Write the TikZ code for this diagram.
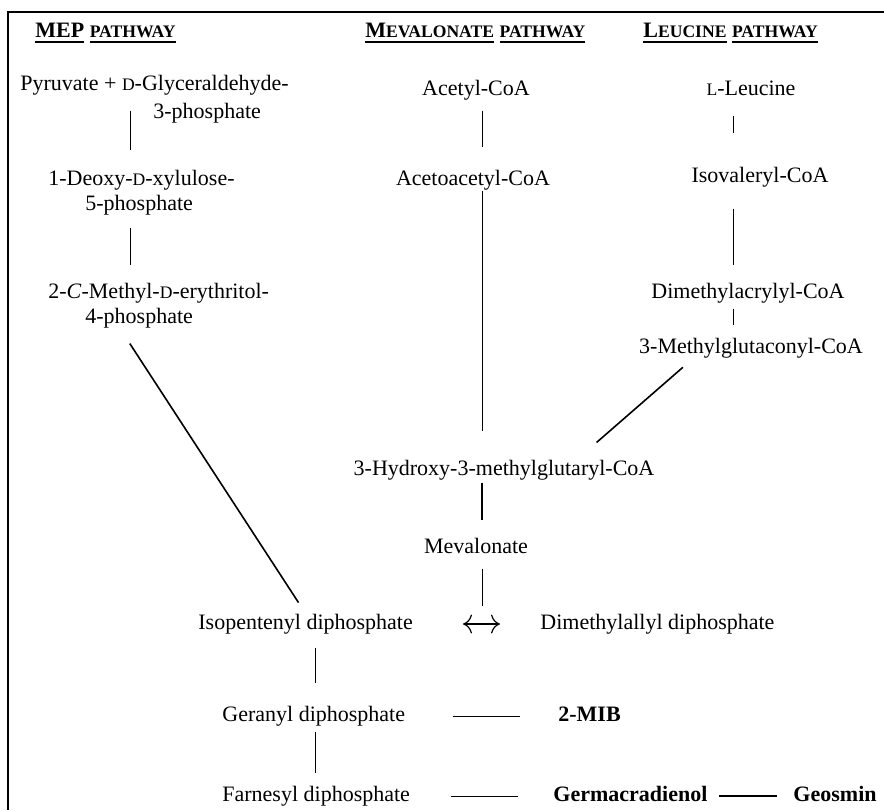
\documentclass[tikz,border=0pt]{standalone}
\usepackage{fontspec}
\setmainfont{Liberation Serif}
\usetikzlibrary{arrows.meta, calc}

% fake small capitals and the heading underline
\newcommand{\smc}[1]{{\fontsize{8.8}{10}\selectfont #1}}
\newcommand{\hdline}[1]{\setbox0=\hbox{#1}\rlap{\rule[-2.6pt]{\wd0}{0.9pt}}\box0\relax}

\begin{document}
\begin{tikzpicture}[x=0.5pt, y=-0.5pt,
    compound/.style={inner sep=0pt, anchor=west, text height=7.7pt, text depth=2.4pt, font=\fontsize{11}{13}\selectfont},
    product/.style={compound, font=\fontsize{11}{13}\selectfont\bfseries},
    header/.style={inner sep=0pt, anchor=west, font=\fontsize{11}{13}\selectfont\bfseries},
    bond/.style={line width=0.5pt},
    strongbond/.style={line width=0.8pt},
    equil/.style={line width=0.6pt, {To[length=4.5pt,width=9.5pt]}-{To[length=4.5pt,width=9.5pt]}}
]
    \useasboundingbox (0,0) rectangle (884,810);

    % frame (left and top edges only)
    \draw[line width=1.2pt] (8,810) -- (8,12) -- (884,12);

    % column positions of the bonds
    \coordinate (mepcol) at (130,0);
    \coordinate (mevcol) at (482,0);
    \coordinate (leucol) at (733,0);
    \coordinate (ippcol) at (315,0);

    % Headings
    \node[header] (hmep) at (35,33) {\hdline{MEP} \hdline{\smc{PATHWAY}}};
    \node[header] (hmev) at (365,33) {\hdline{M\smc{EVALONATE}} \hdline{\smc{PATHWAY}}};
    \node[header] (hleu) at (643,33) {\hdline{L\smc{EUCINE}} \hdline{\smc{PATHWAY}}};

    % MEP pathway
    \node[compound] (pyr1) at (20,85) {Pyruvate + \smc{D}-Glyceraldehyde-};
    \node[compound] (pyr2) at (153,113) {3-phosphate};
    \node[compound] (dxp1) at (48,180) {1-Deoxy-\smc{D}-xylulose-};
    \node[compound] (dxp2) at (85,205) {5-phosphate};
    \node[compound] (mep1) at (48,293) {2-\textit{C}-Methyl-\smc{D}-erythritol-};
    \node[compound] (mep2) at (85,318) {4-phosphate};

    % Mevalonate pathway
    \node[compound, anchor=center] (acetyl) at (476,90) {Acetyl-CoA};
    \node[compound, anchor=center] (acac) at (473,180) {Acetoacetyl-CoA};
    \node[compound, anchor=center] (hmg) at (504,470) {3-Hydroxy-3-methylglutaryl-CoA};
    \node[compound, anchor=center] (meva) at (476,548) {Mevalonate};

    % Leucine pathway
    \node[compound, anchor=center] (leu) at (751,90) {\smc{L}-Leucine};
    \node[compound, anchor=center] (ival) at (760,177) {Isovaleryl-CoA};
    \node[compound, anchor=center] (dmacryl) at (748,293) {Dimethylacrylyl-CoA};
    \node[compound, anchor=center] (mglut) at (751,348) {3-Methylglutaconyl-CoA};

    % isoprenoid units and products
    \node[compound] (ipp) at (198,624) {Isopentenyl diphosphate};
    \node[compound] (dmapp) at (540,624) {Dimethylallyl diphosphate};
    \node[compound] (ger) at (222,716) {Geranyl diphosphate};
    \node[compound] (far) at (222,796) {Farnesyl diphosphate};
    \node[product] (mib) at (558,716) {2-MIB};
    \node[product] (germ) at (553,796) {Germacradienol};
    \node[product, anchor=east] (geos) at (877,796) {Geosmin};

    % MEP bonds
    \draw[bond, shorten <=7.5pt, shorten >=10pt] (pyr1.south -| mepcol) -- (dxp1.north -| mepcol);
    \draw[bond, shorten <=6pt, shorten >=9pt] (dxp2.south -| mepcol) -- (mep1.north -| mepcol);
    \draw[strongbond, shorten <=9pt, shorten >=6.5pt] ($(mep2.south -| mepcol)+(-10,0)$) -- (ipp.north);

    % Mevalonate bonds
    \draw[bond, shorten <=5pt, shorten >=11.5pt] (acetyl.south -| mevcol) -- (acac.north -| mevcol);
    \draw[bond, shorten >=14.5pt] (acac.south -| mevcol) -- (hmg.north -| mevcol);
    \draw[strongbond, shorten <=1pt, shorten >=9pt] (hmg.south -| mevcol) -- (meva.north -| mevcol);
    \draw[bond, shorten <=5pt, shorten >=4pt] (meva.south -| mevcol) -- (mevcol |- ipp.north);

    % Leucine bonds
    \draw[bond, shorten <=7.5pt, shorten >=17pt] (leu.south -| leucol) -- (ival.north -| leucol);
    \draw[bond, shorten <=10.5pt, shorten >=9pt] (ival.south -| leucol) -- (dmacryl.north -| leucol);
    \draw[bond, shorten <=2.5pt, shorten >=6.5pt] (dmacryl.south -| leucol) -- (mglut.north -| leucol);
    \draw[strongbond, shorten <=6.7pt, shorten >=13pt] ($(mglut.south)+(-58,0)$) -- ($(hmg.north)+(73,0)$);

    % isoprenoid bonds
    \draw[equil] ($(mevcol |- ipp)+(-19,0)$) -- ($(mevcol |- dmapp)+(18,0)$);
    \draw[bond, shorten <=6.5pt, shorten >=11.5pt] (ipp.south -| ippcol) -- (ger.north -| ippcol);
    \draw[bond, shorten <=2.5pt, shorten >=6.5pt] (ger.south -| ippcol) -- (far.north -| ippcol);
    \draw[bond, shorten <=24pt, shorten >=19pt] (ger.east) -- (mib.west);
    \draw[bond, shorten <=20.5pt, shorten >=17.5pt] (far.east) -- (germ.west);
    \draw[strongbond, shorten <=5.5pt, shorten >=8pt] (germ.east) -- (geos.west);
\end{tikzpicture}
\end{document}
